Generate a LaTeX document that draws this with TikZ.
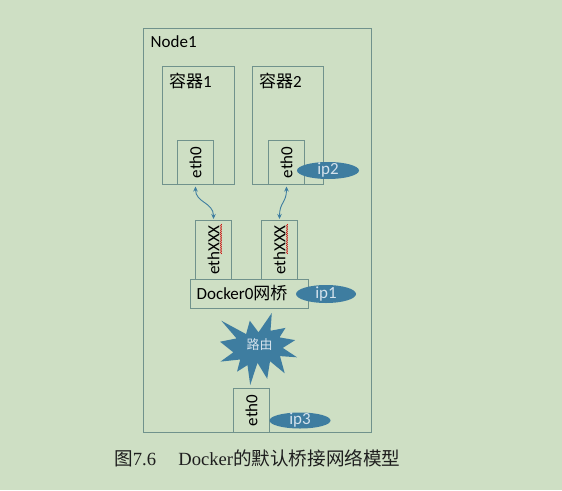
\documentclass[tikz,border=0pt]{standalone}
\usepackage{fontspec}
\setmainfont{Carlito}
\newfontfamily\cjk{Noto Sans CJK SC}
\newfontfamily\capfont{Liberation Serif}
\usetikzlibrary{shapes.geometric,arrows.meta,decorations.pathmorphing}
\definecolor{bg}{RGB}{206,223,196}
\definecolor{boxc}{RGB}{112,146,140}
\definecolor{blu}{RGB}{62,125,160}
\definecolor{ipt}{RGB}{212,226,236}
\definecolor{capc}{RGB}{30,30,30}
\begin{document}
\begin{tikzpicture}[x=1pt,y=-1pt,
  box/.style={draw=boxc, line width=1pt, inner sep=0pt, anchor=north west},
  lbl/.style={inner sep=0pt, text=black, font=\fontsize{17}{20}\selectfont},
  ipell/.style={ellipse, fill=blu, draw=none, inner sep=0pt},
  iptext/.style={inner sep=0pt, text=ipt, font=\fontsize{17}{20}\selectfont},
  arr/.style={draw=blu, line width=0.9pt, {Stealth[length=5pt,width=4.5pt]}-{Stealth[length=5pt,width=4.5pt]}, shorten <=1.5pt, shorten >=1pt},
  squig/.style={draw=red!80!black, line width=0.5pt, decorate, decoration={snake, amplitude=0.6pt, segment length=2.2pt}}
]
\useasboundingbox[fill=bg] (0,0) rectangle (562,490);

% outer node
\node[box, minimum width=228pt, minimum height=404pt] (node1) at (143,28) {};
\node[lbl, anchor=west] (node1t) at (150.5,42) {Node1};

% containers
\node[box, minimum width=72pt, minimum height=118pt] (c1) at (162,66) {};
\node[box, minimum width=71pt, minimum height=118pt] (c2) at (252,66) {};
\node[lbl, anchor=west] (c1t) at (169,81) {{\cjk 容器}1};
\node[lbl, anchor=west] (c2t) at (259,81) {{\cjk 容器}2};

% eth0 in containers
\node[box, minimum width=36pt, minimum height=44pt] (e1) at (177,140) {};
\node[box, minimum width=36pt, minimum height=44pt] (e2) at (268,140) {};
\node[lbl, rotate=90] (e1t) at (e1.center) {eth0};
\node[lbl, rotate=90] (e2t) at (e2.center) {eth0};

% ip2
\node[ipell, minimum width=62pt, minimum height=17pt] (ip2) at (328,170.5) {};
\node[iptext] (ip2t) at (ip2.center) {ip2};

% ethXXX
\node[box, minimum width=36pt, minimum height=59pt] (x1) at (195,220) {};
\node[box, minimum width=36pt, minimum height=59pt] (x2) at (261,220) {};
\node[lbl, rotate=90] (x1t) at (x1.center) {ethXXX};
\node[lbl, rotate=90] (x2t) at (x2.center) {ethXXX};
\coordinate (s1a) at (221,224);
\coordinate (s1b) at (221,254);
\coordinate (s2a) at (287,224);
\coordinate (s2b) at (287,254);
\draw[squig] (s1a) -- (s1b);
\draw[squig] (s2a) -- (s2b);

% connectors
\draw[arr] (e1.south) .. controls +(0,18) and +(0,-18) .. (x1.north);
\draw[arr] (e2.south) .. controls +(0,18) and +(0,-18) .. (x2.north);

% bridge
\node[box, minimum width=118pt, minimum height=29pt] (br) at (190,279) {};
\node[lbl, anchor=west] (brt) at (196.5,293.5) {Docker0{\cjk 网桥}};
\node[ipell, minimum width=60pt, minimum height=18pt] (ip1) at (326,294) {};
\node[iptext] (ip1t) at (ip1.center) {ip1};

% router burst
\fill[blu] (258.5,332.3) -- (271.8,313) -- (270.5,330.75) -- (285.5,327.9) -- (279.5,337.4)
  -- (295.2,340.1) -- (282.8,347.9) -- (297,357.3) -- (280.0,356.1) -- (284.7,373.3)
  -- (270.0,361.2) -- (267.2,378.8) -- (257.5,362.8) -- (250.2,385) -- (247.5,365.1)
  -- (237.0,371.7) -- (240.2,359.5) -- (220.5,361.6) -- (233.3,352.3) -- (220,341.7)
  -- (236.5,338.4) -- (221.3,320.7) -- (246.1,334.1) -- (249.8,320.7) -- cycle;
\node[inner sep=0pt, text=ipt, font=\cjk\fontsize{13}{15}\selectfont] (rt) at (259.5,345) {路由};

% host eth0
\node[box, minimum width=36pt, minimum height=44pt] (e3) at (233,388) {};
\node[lbl, rotate=90] (e3t) at (e3.center) {eth0};
\node[ipell, minimum width=61pt, minimum height=16pt] (ip3) at (300,420.5) {};
\node[iptext] (ip3t) at (ip3.center) {ip3};

% caption
\node[anchor=west, inner sep=0pt, text=capc, font=\capfont\fontsize{18.6}{22}\selectfont] (cap) at (114,458)
  {{\cjk 图}7.6\hspace{1.2em}Docker{\cjk 的默认桥接网络模型}};
\end{tikzpicture}
\end{document}
